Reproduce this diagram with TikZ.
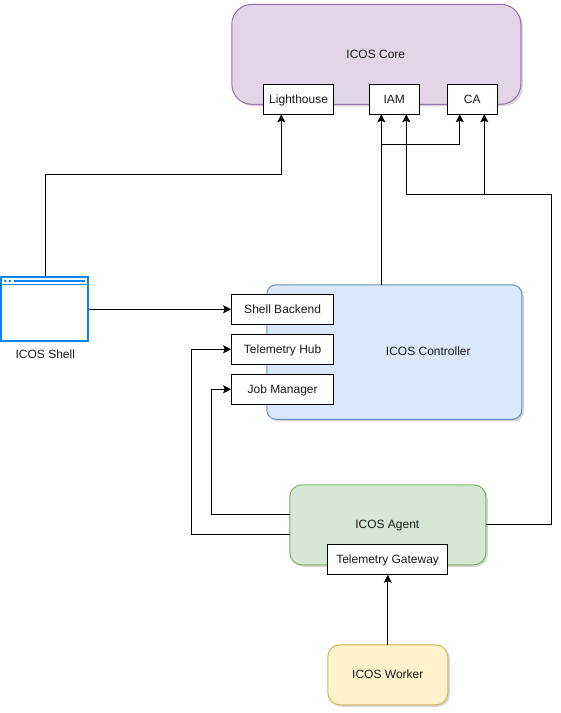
\documentclass[tikz,border=0pt]{standalone}
\usepackage{fontspec}
\setmainfont{Liberation Sans}
\usetikzlibrary{shadows,arrows.meta}
\definecolor{corefill}{HTML}{E1D5E7}\definecolor{coreline}{HTML}{9673A6}
\definecolor{ctlfill}{HTML}{DAE8FC}\definecolor{ctlline}{HTML}{6C8EBF}
\definecolor{agfill}{HTML}{D5E8D4}\definecolor{agline}{HTML}{82B366}
\definecolor{wkfill}{HTML}{FFF2CC}\definecolor{wkline}{HTML}{D6B656}
\definecolor{shellblue}{HTML}{0A84F0}
\definecolor{txt}{HTML}{1A1A1A}
\tikzset{
  px/.style={x=0.75pt,y=-0.75pt},
  area/.style={rounded corners=#1,drop shadow={shadow xshift=1.5pt,shadow yshift=-1.5pt,opacity=0.16,fill=black},line width=0.75pt},
  box/.style={draw=black,fill=white,line width=0.75pt,inner sep=0pt,font=\fontsize{9}{11}\selectfont,text=txt,minimum height=22.5pt,text height=7.4pt,text depth=1.4pt},
  lab/.style={font=\fontsize{9}{11}\selectfont,text=txt,inner sep=0pt,text height=7.4pt,text depth=1.4pt},
  conn/.style={draw=black,line width=0.75pt,-{Stealth[length=6pt,width=6pt,inset=1.2pt]}},
}
\begin{document}
\begin{tikzpicture}[px]
\useasboundingbox (0.2,0.2) rectangle (560.2,713.2);
% containers
\filldraw[area=15pt,fill=corefill,draw=coreline] (232,4.5) rectangle (521,104.5);
\node[lab] (coretxt) at (376,54.6) {ICOS Core};
\filldraw[area=7pt,fill=ctlfill,draw=ctlline] (267,285) rectangle (522,419.5);
\node[lab] (ctltxt) at (428.5,352) {ICOS Controller};
\filldraw[area=9pt,fill=agfill,draw=agline] (290,485) rectangle (486,565);
\node[lab] (agtxt) at (387.5,524.5) {ICOS Agent};
\filldraw[area=9pt,fill=wkfill,draw=wkline] (328,645) rectangle (448,705);
\node[lab] (wktxt) at (388,674.5) {ICOS Worker};
% boxes
\node[box,minimum width=52.3pt] (light) at (298.8,99.5) {Lighthouse};
\node[box,minimum width=37.5pt] (iam) at (394.5,99.5) {IAM};
\node[box,minimum width=37.5pt] (ca) at (472.5,99.5) {CA};
\node[box,minimum width=76.5pt] (sb) at (282.8,309.5) {Shell Backend};
\node[box,minimum width=76.5pt] (th) at (282.8,349.5) {Telemetry Hub};
\node[box,minimum width=76.5pt] (jm) at (282.8,389.5) {Job Manager};
\node[box,minimum width=89.5pt] (tg) at (387.8,559.5) {Telemetry Gateway};
% shell window
\node[draw=shellblue,fill=white,line width=1.5pt,minimum width=65pt,minimum height=48pt,inner sep=0pt] (shell) at (45,309.5) {};
\draw[shellblue,line width=1.1pt] (1,284.5) -- (89,284.5);
\draw[shellblue,line width=1.1pt] (14,281) -- (85,281);
\fill[shellblue] (4.5,280) rectangle (6.5,282) (9,280) rectangle (11,282);
\node[lab] (shelltxt) at (45.5,355) {ICOS Shell};
% anchors for routed connectors
\coordinate (shellTop) at (45.3,276.5);
\coordinate (lightB) at (281.5,114.5);
\coordinate (iamL) at (381.5,114.5);
\coordinate (iamR) at (406.5,114.5);
\coordinate (caL) at (460,114.5);
\coordinate (caR) at (484.5,114.5);
\coordinate (ctlTop) at (381.5,285);
\coordinate (split) at (381.5,144.5);
\coordinate (agR) at (486,524.5);
\coordinate (splitB) at (484.5,194.5);
\coordinate (agL1) at (290,515);
\coordinate (agL2) at (290,534.5);
\coordinate (wkTop) at (388,645);
\coordinate (tgB) at (388,575);
% connectors
\draw[conn] (shellTop) -- (45.3,175) -- (281.5,175) -- (lightB);
\draw[conn] (shell.east) -- (sb.west);
\draw[conn] (ctlTop) -- (iamL);
\draw[conn] (split) -- (460,144.5) -- (caL);
\draw[conn] (agR) -- (552,524.5) -- (552,194.5) -- (406.5,194.5) -- (iamR);
\draw[conn] (splitB) -- (caR);
\draw[conn] (agL1) -- (212,515) -- (212,389.5) -- (jm.west);
\draw[conn] (agL2) -- (192,534.5) -- (192,349.5) -- (th.west);
\draw[conn] (wkTop) -- (tgB);
\end{tikzpicture}
\end{document}
